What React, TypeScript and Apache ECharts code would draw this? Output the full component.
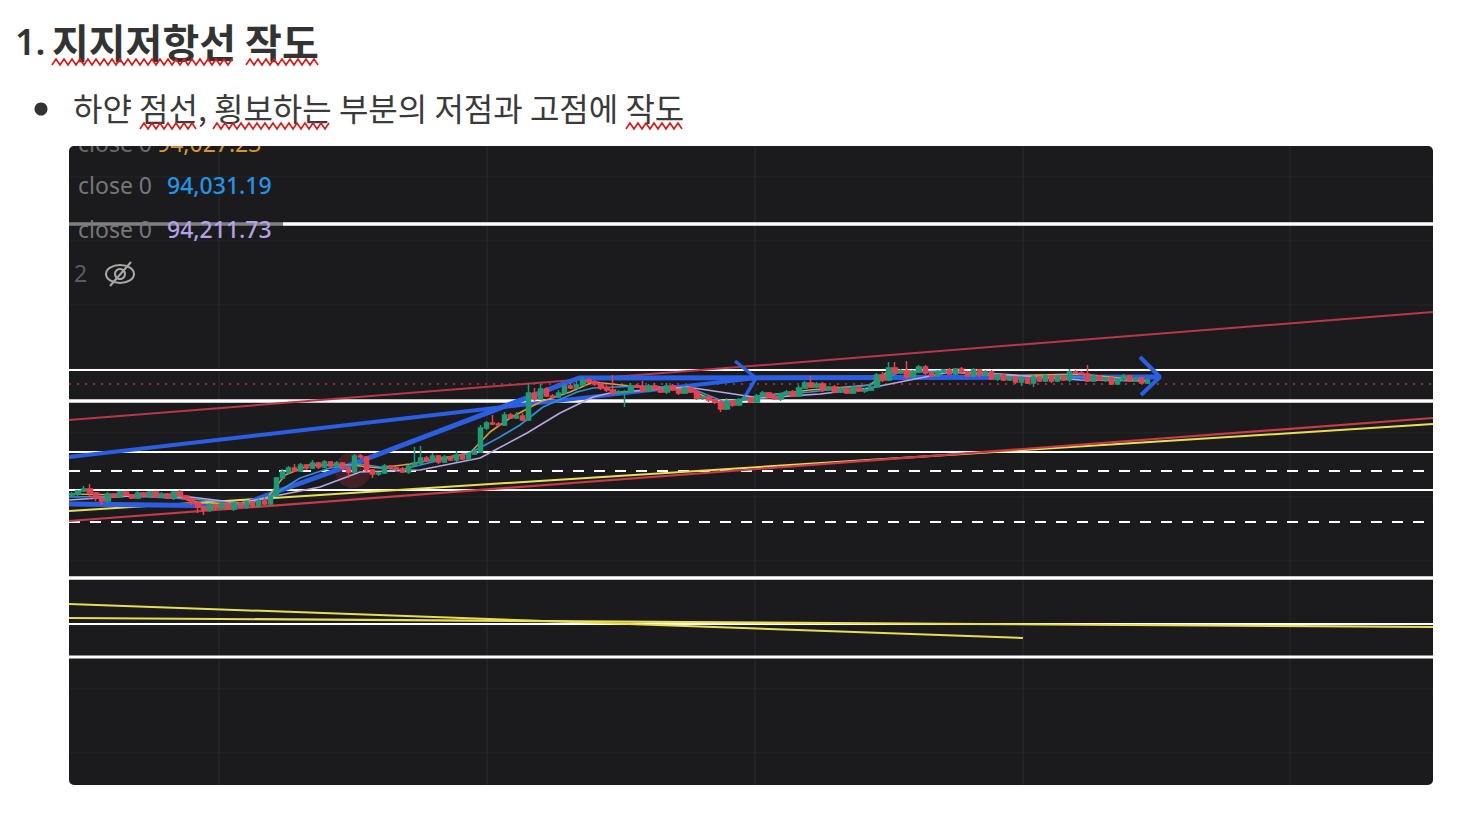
import React, { useEffect, useRef } from "react";
import * as echarts from "echarts";

const titleNumber = "1.";
const titleText = "지지저항선 작도";
const bulletText = "하얀 점선, 횡보하는 부분의 저점과 고점에 작도";
const legendLabel = "close 0";
const legendValues = ["94,027.23", "94,031.19", "94,211.73"];

const candleCount = 227;
const candleClose = [
  92910,92940,92960,92920,92870,92840,92910,92880,92930,92900,
  92870,92920,92890,92930,92880,92910,92870,92930,92890,92860,
  92820,92780,92750,92800,92770,92810,92760,92820,92780,92830,
  92790,92840,92810,92890,93070,93130,93170,93140,93200,93170,
  93220,93180,93230,93190,93220,93170,93130,93290,93280,93150,
  93110,93120,93190,93170,93160,93130,93190,93220,93270,93240,
  93290,93230,93280,93250,93300,93260,93310,93330,93570,93620,
  93610,93600,93700,93670,93690,93650,93920,93860,93960,93890,
  93880,93920,93990,93970,94000,94050,94030,94010,93970,93950,
  93920,93930,93930,93990,93980,93940,93990,93960,93930,93990,
  93950,93920,93970,93930,93870,93880,93850,93830,93760,93840,
  93800,93850,93870,93830,93890,93920,93880,93860,93910,93930,
  93890,93970,94020,93980,94010,93950,93980,93930,93960,93920,
  93970,93940,93950,93980,94100,94050,94170,94120,94140,94080,
  94130,94180,94120,94090,94130,94150,94110,94160,94130,94090,
  94150,94100,94130,94060,94100,94050,94080,94030,94070,94020,
  94080,94040,94090,94040,94080,94050,94130,94120,94110,94040,
  94090,94050,94070,94010,94050,94090,94040,94070,94020,94050,
];
const firstOpen = 92900;
const wickUp = [
  20,10,30,50,10,10,20,10,10,10,
  10,20,10,10,10,20,10,10,20,10,
  10,10,10,20,10,10,20,10,10,10,
  10,20,40,10,10,30,20,40,20,10,
  30,10,20,10,20,10,10,20,20,10,
  10,10,20,10,10,20,10,160,120,20,
  30,10,20,10,40,20,10,30,30,20,
  80,20,30,20,40,30,100,50,50,20,
  20,30,20,30,40,30,20,20,20,30,
  150,20,20,30,20,60,20,30,20,30,
  20,10,20,20,20,10,20,10,10,30,
  10,20,30,10,20,20,10,20,10,20,
  20,30,20,70,20,20,10,20,20,10,
  20,10,20,20,20,30,60,60,20,100,
  20,20,20,10,20,10,20,10,20,10,
  20,10,20,20,10,10,10,10,20,10,
  20,10,20,10,10,20,30,20,20,90,
  20,10,10,10,10,20,10,10,10,10,
];
const wickDown = [
  10,20,10,60,30,40,20,10,10,10,
  10,10,20,10,10,10,10,20,10,10,
  20,60,50,20,20,20,10,20,10,20,
  20,10,10,10,10,10,20,10,10,20,
  10,20,10,20,10,20,60,10,20,30,
  40,20,10,20,20,10,20,10,10,10,
  10,20,10,10,20,10,10,10,10,20,
  10,20,10,10,10,10,10,20,10,10,
  20,10,10,10,10,10,10,20,20,20,
  20,20,150,10,10,10,10,10,10,20,
  10,20,10,10,20,20,20,20,30,10,
  20,10,10,10,10,10,10,10,20,10,
  10,10,10,10,10,20,10,10,10,10,
  10,10,20,10,10,20,10,10,10,20,
  10,10,20,10,10,10,10,10,10,10,
  10,20,10,10,20,10,10,20,40,10,
  40,10,10,20,10,10,20,10,10,10,
  10,10,20,10,10,10,10,10,10,10,
];

const gridTimes = [219, 487, 755, 1023, 1290];
const gridPrices = [96080, 95440, 94800, 94160, 93520, 92880, 92240, 91600, 90960, 90320];

const whiteLevels = [94150, 93840, 93330, 92950, 92070, 91610, 91280];
const whiteWidths = [2, 3.5, 2, 2, 3.5, 2, 3];
const topLevel = 95610;
const dashedLevels = [93140, 92630];
const lastPrice = 94010;

const redUpper = [[69, 93650], [1433, 94730]];
const redLower = [[69, 92640], [1433, 93670]];
const yellowUpper = [[69, 92740], [1433, 93610]];
const yellowFalling = [[69, 91810], [1023, 91470]];
const yellowFlat = [[69, 91670], [1433, 91580]];

const blueShort = [[69, 93280], [756, 94070]];
const blueShortHead = [[735, 94240], [756, 94070], [743, 93850]];
const blueLong = [[69, 92810], [240, 92790], [273, 92920], [337, 93150], [579, 94070], [1160, 94080]];
const blueLongHead = [[1140, 94280], [1160, 94080], [1141, 93900]];

const maOrange = [[69,92910],[130,92900],[180,92870],[200,92820],[245,92810],[268,92880],[285,93100],[310,93200],[350,93200],[380,93170],[410,93210],[470,93320],[490,93530],[500,93600],[510,93670],[540,93830],[570,93930],[593,94030],[640,93980],[690,93950],[725,93800],[760,93890],[810,93950],[870,94000],[890,94150],[950,94130],[1000,94090],[1080,94110],[1150,94040]];
const maBlue = [[69,92880],[130,92890],[190,92860],[240,92820],[270,92880],[300,93070],[330,93170],[360,93210],[400,93150],[420,93200],[470,93320],[500,93480],[520,93600],[543,93780],[577,93930],[593,93970],[640,93990],[690,93970],[725,93830],[760,93890],[810,93930],[870,94000],[900,94130],[950,94140],[1000,94090],[1080,94080],[1150,94040]];
const maPurple = [[69,92850],[130,92890],[190,92880],[240,92820],[270,92880],[320,92980],[360,93130],[420,93150],[480,93270],[527,93520],[560,93720],[593,93880],[610,93920],[687,93980],[727,93920],[760,93870],[820,93910],[870,93970],[910,94050],[950,94130],[1000,94110],[1080,94050],[1150,94040]];

const highlightSpot = [[353, 93150]];

const PANEL = { left: 69, top: 146, width: 1364, height: 639 };
const FONT = '"Noto Sans CJK KR", "Noto Sans", sans-serif';
const LEGEND_FONT = '"Noto Sans", sans-serif';

const wave = (x0: number, x1: number, y: number) => {
  const pts: number[][] = [];
  let up = false;
  for (let x = x0; x <= x1; x += 4) {
    pts.push([x, up ? y - 3 : y + 3]);
    up = !up;
  }
  return pts;
};

const line = (name: string, data: number[][], color: string, width: number, z: number, type: any = "solid") => ({
  type: "line",
  name,
  data,
  xAxisIndex: 0,
  yAxisIndex: 0,
  showSymbol: false,
  symbol: "none",
  silent: true,
  z,
  lineStyle: { color, width, type, cap: "butt" },
});

const level = (p: number) => [[69, p], [1433, p]];

export default function App() {
  const ref = useRef<HTMLDivElement>(null);
  useEffect(() => {
    document.body.style.margin = "0";
    const chart = echarts.init(ref.current!, null, { renderer: "svg" });
    let prev = firstOpen;
    const candles = candleClose.map((c, i) => {
      const o = prev;
      prev = c;
      return [o, c, Math.min(o, c) - wickDown[i], Math.max(o, c) + wickUp[i]];
    });
    const text = (t: string, x: number, y: number, size: number, fill: string, font = LEGEND_FONT, weight: any = "normal") => ({
      type: "text",
      x,
      y,
      z: 100,
      silent: true,
      style: { text: t, fontFamily: font, fontSize: size, fontWeight: weight, fill, textVerticalAlign: "middle" },
    });
    const mask = (x: number, y: number, width: number, height: number) => ({
      type: "rect",
      z: 100,
      silent: true,
      shape: { x, y, width, height },
      style: { fill: "#ffffff" },
    });
    const squiggle = (x0: number, x1: number, y: number) => ({
      type: "polyline",
      z: 100,
      silent: true,
      shape: { points: wave(x0, x1, y) },
      style: { stroke: "#e01818", lineWidth: 1.6, fill: "none" },
    });
    chart.setOption({
      animation: false,
      backgroundColor: "#ffffff",
      grid: { ...PANEL, containLabel: false },
      xAxis: [
        { type: "value", min: 69, max: 1433, show: false },
        { type: "category", data: Array.from({ length: candleCount }, (_, i) => String(i)), show: false, boundaryGap: true },
      ],
      yAxis: [{ type: "value", min: 90000, max: 96390, show: false, scale: true }],
      series: [
        ...gridTimes.map((t, i) => line("gridV" + i, [[t, 90000], [t, 96390]], "#2b2b2d", 1, 1)),
        ...gridPrices.map((p, i) => line("gridH" + i, level(p), "#262628", 1, 1)),
        {
          type: "scatter",
          name: "highlight",
          data: highlightSpot,
          symbolSize: 36,
          silent: true,
          z: 2,
          itemStyle: { color: "rgba(125,42,52,0.5)" },
        },
        line("top", [[69, topLevel], [283, topLevel]], "#808080", 3.5, 3),
        line("topWhite", [[283, topLevel], [1433, topLevel]], "#ffffff", 3.5, 3),
        ...whiteLevels.map((p, i) => line("white" + i, level(p), "#ffffff", whiteWidths[i], 3)),
        ...dashedLevels.map((p, i) => line("dash" + i, level(p), "#ffffff", 2, 3, [11, 10])),
        line("last", level(lastPrice), "#a83c48", 1.5, 3, [2, 6]),
        line("redUpper", redUpper, "#b8384a", 2, 4),
        line("yellowUpper", yellowUpper, "#e8de55", 2, 4),
        line("redLower", redLower, "#c83a48", 2.2, 4),
        line("yellowFalling", yellowFalling, "#e8de55", 2, 4),
        line("yellowFlat", yellowFlat, "#e8de55", 2.2, 4),
        line("blueShort", blueShort, "#2b5fe3", 4, 5),
        line("blueShortHead", blueShortHead, "#2b5fe3", 3.5, 5),
        line("blueLong", blueLong, "#2b5fe3", 5, 5),
        line("blueLongHead", blueLongHead, "#2b5fe3", 4, 5),
        line("ma orange", maOrange, "#dd9e3c", 1.6, 6),
        line("ma blue", maBlue, "#3390d8", 1.6, 6),
        line("ma purple", maPurple, "#b7a5e4", 1.6, 6),
        {
          type: "candlestick",
          name: "price",
          xAxisIndex: 1,
          yAxisIndex: 0,
          data: candles,
          barWidth: 5,
          silent: true,
          z: 7,
          itemStyle: { color: "#1d9a76", color0: "#e8404f", borderColor: "#1d9a76", borderColor0: "#e8404f", borderWidth: 1.5 },
        },
      ],
      graphic: [
        { type: "rect", z: -10, silent: true, shape: { x: 69, y: 146, width: 1364, height: 639, r: 5 }, style: { fill: "#1b1b1d" } },
        text(legendLabel, 78, 143, 23, "#6a6a6c"),
        text(legendValues[0], 157, 143, 23, "#d8962f"),
        text(")", 59, 185, 23, "#6a6a6c"),
        text(legendLabel, 78, 185, 23, "#77777a"),
        text(legendValues[1], 167, 185, 23, "#2196e8", LEGEND_FONT, 500),
        text(")", 59, 229, 23, "#6a6a6c"),
        text(legendLabel, 78, 229, 23, "#77777a"),
        text(legendValues[2], 167, 229, 23, "#b3a2e6", LEGEND_FONT, 500),
        text("2", 74, 273, 23, "#5c5c5e"),
        { type: "ellipse", z: 100, silent: true, shape: { cx: 120, cy: 274, rx: 14, ry: 9 }, style: { stroke: "#a8a8a8", lineWidth: 2, fill: "none" } },
        { type: "circle", z: 100, silent: true, shape: { cx: 120, cy: 274, r: 5 }, style: { stroke: "#a8a8a8", lineWidth: 2, fill: "none" } },
        { type: "line", z: 100, silent: true, shape: { x1: 110, y1: 286, x2: 131, y2: 262 }, style: { stroke: "#a8a8a8", lineWidth: 2 } },
        mask(60, 130, 260, 16),
        mask(50, 150, 19, 140),
        text(titleNumber, 15, 41, 36, "#333333", LEGEND_FONT, 600),
        text(titleText, 52, 41, 40, "#333333", FONT, "bold"),
        squiggle(52, 235, 62),
        squiggle(246, 318, 62),
        { type: "circle", z: 100, silent: true, shape: { cx: 41, cy: 109, r: 6.5 }, style: { fill: "#333333" } },
        text(bulletText, 73, 107, 32, "#3a3a3a", FONT),
        squiggle(140, 198, 126),
        squiggle(213, 329, 126),
        squiggle(626, 684, 126),
      ],
    });
    return () => chart.dispose();
  }, []);
  return <div ref={ref} style={{ position: "absolute", left: 0, top: 0, width: 1477, height: 817 }} />;
}
